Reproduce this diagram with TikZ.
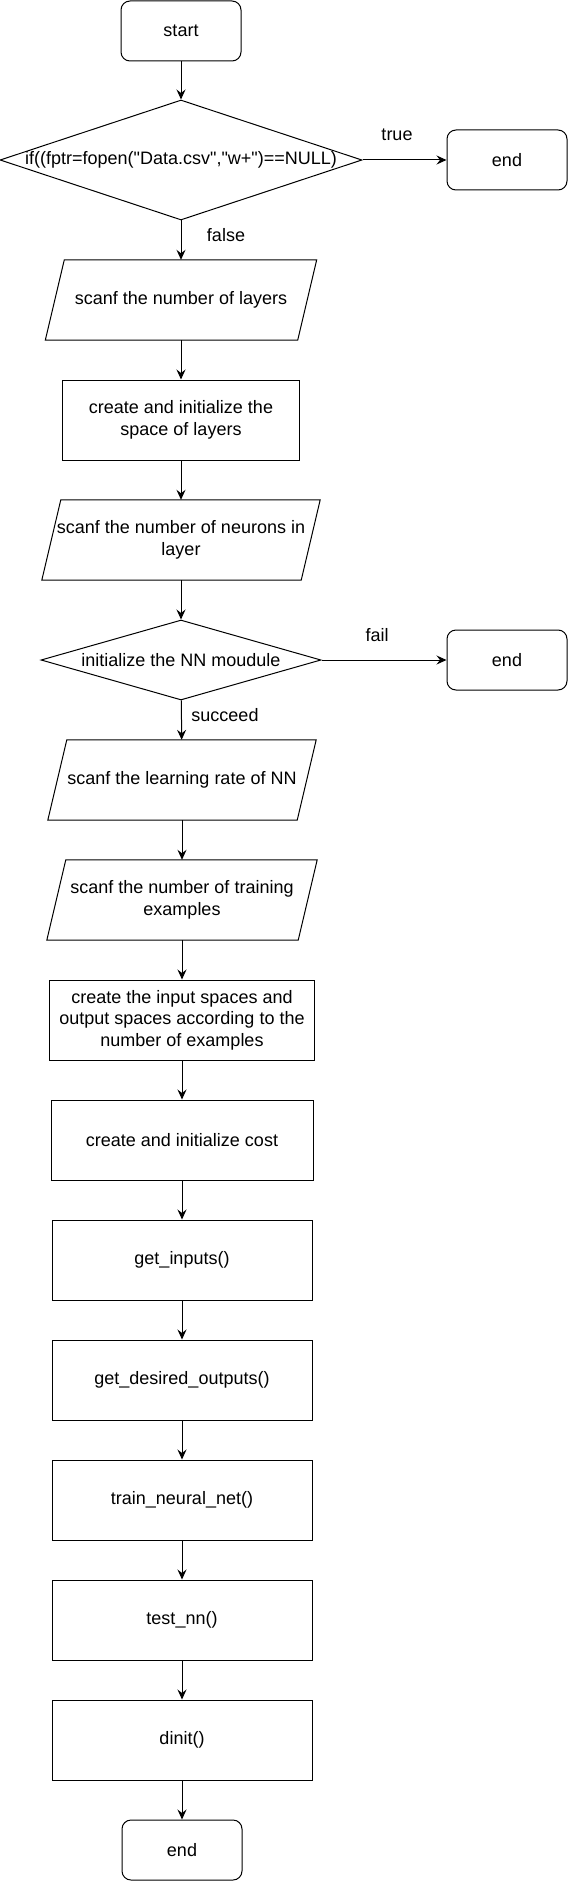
\documentclass[tikz,border=0pt]{standalone}
\usepackage{fontspec}
\setmainfont{Liberation Sans}[Ligatures=TeXOff]
\usetikzlibrary{shapes.geometric,arrows.meta}
\begin{document}
\begin{tikzpicture}[x=1pt,y=-1pt,
  every node/.style={font=\fontsize{18}{21.6}\selectfont, inner sep=0pt, align=center},
  term/.style={draw, rounded corners=9pt, minimum width=120pt, minimum height=60pt, line width=1pt},
  proc/.style={draw, minimum height=80pt, line width=1pt},
  iobox/.style={minimum height=80pt},
  decision/.style={draw, diamond, line width=1pt},
  arr/.style={-{Stealth[length=10pt,width=9pt,inset=3.5pt]}, line width=1pt}
]
\useasboundingbox (0,0) rectangle (568,1881);

\node[term] (start) at (181,31) {start};
\node[decision, minimum width=362pt, minimum height=120pt] (d1) at (181,160)
  {\makebox[0pt]{if((fptr=fopen("Data.csv","w+")==NULL)}};
\node[term] (end1) at (507,160) {end};
\node[iobox, minimum width=271pt] (p1) at (181,300) {scanf the number of layers};
\node[proc, minimum width=237pt] (r1) at (181,420) {create and initialize the\\space of layers};
\node[iobox, minimum width=278pt] (p2) at (181,540) {scanf the number of neurons in\\layer};
\node[decision, minimum width=280pt, minimum height=80pt] (d2) at (181,660)
  {\makebox[0pt]{initialize the NN moudule}};
\node[term] (end2) at (507,660) {end};
\node[iobox, minimum width=268pt] (p3) at (182,780) {scanf the learning rate of NN};
\node[iobox, minimum width=270pt] (p4) at (182,900) {scanf the number of training\\examples};
\node[proc, minimum width=265pt] (r2) at (182,1020) {create the input spaces and\\output spaces according to the\\number of examples};
\node[proc, minimum width=262pt] (r3) at (182,1140) {create and initialize cost};
\node[proc, minimum width=260pt] (r4) at (182,1260) {get\_inputs()};
\node[proc, minimum width=260pt] (r5) at (182,1380) {get\_desired\_outputs()};
\node[proc, minimum width=260pt] (r6) at (182,1500) {train\_neural\_net()};
\node[proc, minimum width=260pt] (r7) at (182,1620) {test\_nn()};
\node[proc, minimum width=260pt] (r8) at (182,1740) {dinit()};
\node[term] (endF) at (182,1850) {end};

\foreach \n in {p1,p2,p3,p4}
  \draw[line width=1pt] ([xshift=19pt]\n.north west) -- (\n.north east)
    -- ([xshift=-19pt]\n.south east) -- (\n.south west) -- cycle;

\node (ltrue) at (397,135) {true};
\node (lfalse) at (226,235) {false};
\node (lfail) at (377,635) {fail};
\node (lsucc) at (225,715) {succeed};

\draw[arr] (start) -- (d1);
\draw[arr] (d1) -- (end1);
\draw[arr] (d1) -- (p1);
\draw[arr] (p1) -- (r1);
\draw[arr] (r1) -- (p2);
\draw[arr] (p2) -- (d2);
\draw[arr] (d2) -- (end2);
\draw[arr] (d2) -- (p3);
\draw[arr] (p3) -- (p4);
\draw[arr] (p4) -- (r2);
\draw[arr] (r2) -- (r3);
\draw[arr] (r3) -- (r4);
\draw[arr] (r4) -- (r5);
\draw[arr] (r5) -- (r6);
\draw[arr] (r6) -- (r7);
\draw[arr] (r7) -- (r8);
\draw[arr] (r8) -- (endF);
\end{tikzpicture}
\end{document}
